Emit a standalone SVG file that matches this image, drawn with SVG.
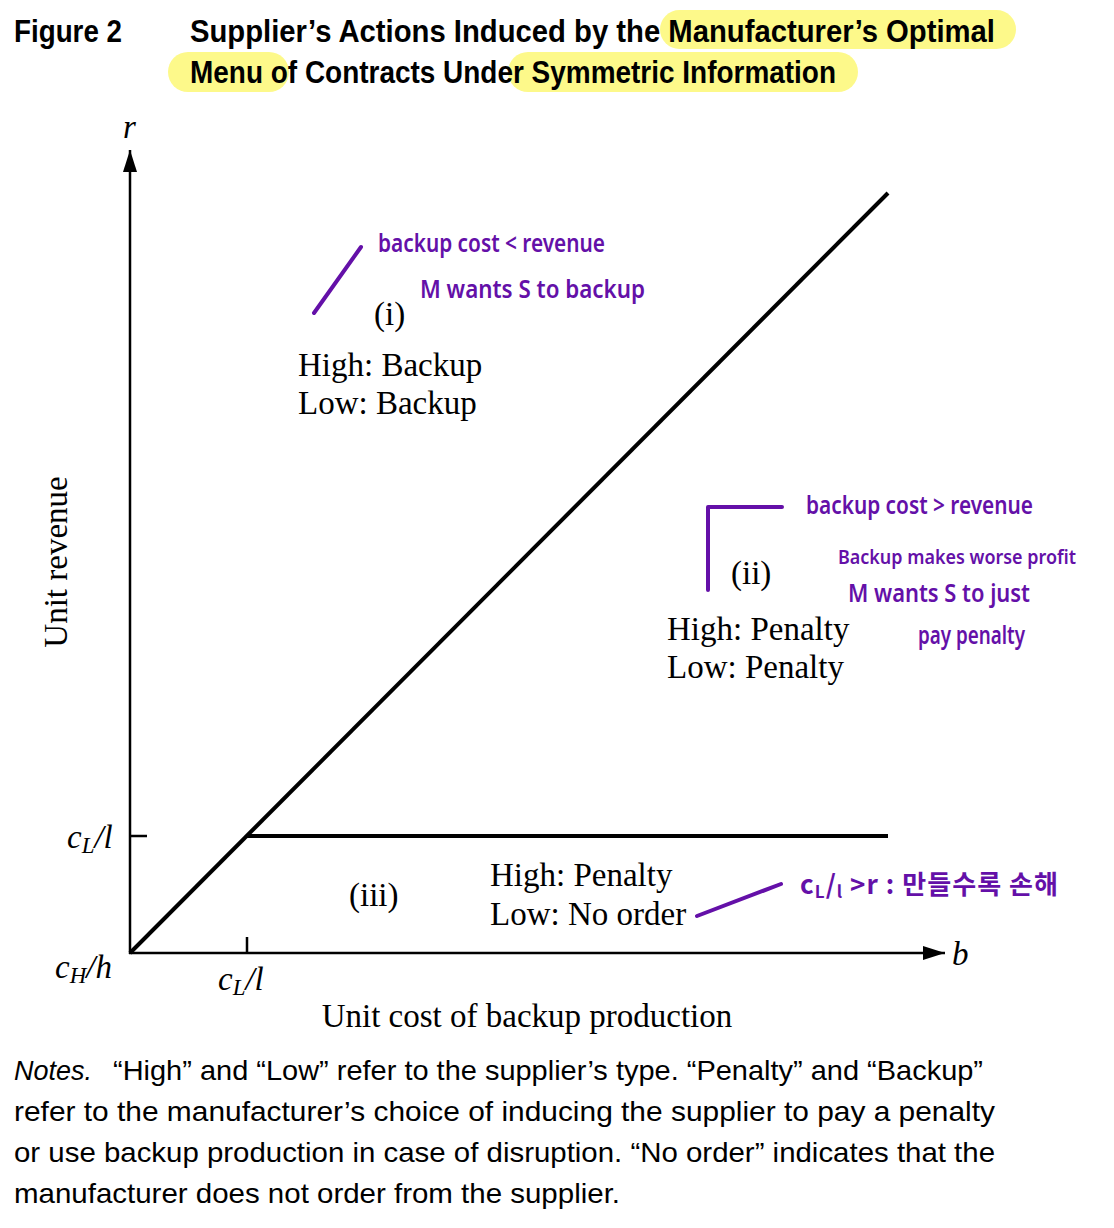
<svg xmlns="http://www.w3.org/2000/svg" width="1114" height="1228" viewBox="0 0 1114 1228">
<defs>
<style>
.title{font-family:"Liberation Sans Narrow","Liberation Sans",Arial,sans-serif;font-weight:bold;font-size:31px;fill:#000}
.serif{font-family:"Liberation Serif","Times New Roman",serif;font-size:33px;fill:#000}
.ital{font-style:italic}
.notes{font-family:"Liberation Sans Narrow","Liberation Sans",Arial,sans-serif;font-size:28px;fill:#000}
.hand{font-family:"Noto Sans","Noto Sans CJK KR",sans-serif;font-size:26px;fill:#6410a8;font-weight:600}
.ink{stroke:#6410a8;stroke-width:4;fill:none;stroke-linecap:round;stroke-linejoin:round}
.axis{stroke:#000;stroke-width:2.5;fill:none}
.bound{stroke:#000;stroke-width:4;fill:none}
.hl{fill:#fdf98a}
</style>
<marker id="arr" viewBox="0 0 22 14" refX="22" refY="7" markerWidth="22" markerHeight="14" markerUnits="userSpaceOnUse" orient="auto">
<path d="M0,0 L22,7 L0,14 Z" fill="#000"/>
</marker>
</defs>
<rect width="1114" height="1228" fill="#fff"/>

<g id="title">
<rect class="hl" x="660" y="10" width="356" height="39" rx="19.5"/>
<rect class="hl" x="168" y="52" width="121" height="40" rx="20"/>
<rect class="hl" x="508" y="52" width="350" height="40" rx="20"/>
<text class="title" x="14" y="42" textLength="108" lengthAdjust="spacingAndGlyphs">Figure 2</text>
<text class="title" x="190" y="42" textLength="805" lengthAdjust="spacingAndGlyphs">Supplier’s Actions Induced by the Manufacturer’s Optimal</text>
<text class="title" x="190" y="83" textLength="646" lengthAdjust="spacingAndGlyphs">Menu of Contracts Under Symmetric Information</text>
</g>

<g id="axes">
<line class="axis" x1="130" y1="954" x2="130" y2="150" marker-end="url(#arr)"/>
<line class="axis" x1="129" y1="953" x2="945" y2="953" marker-end="url(#arr)"/>
<path class="axis" d="M130,836 H147 M247,953 V937"/>
</g>

<g id="connectors">
<line class="bound" x1="130" y1="953" x2="888" y2="193"/>
<line class="bound" x1="247" y1="836" x2="888" y2="836"/>
</g>

<g id="axis-labels">
<text class="serif ital" x="123" y="138">r</text>
<text class="serif ital" x="952" y="965">b</text>
<text class="serif ital" x="67" y="848">c<tspan font-size="23" dy="5">L</tspan><tspan dy="-5">/l</tspan></text>
<text class="serif ital" x="55" y="978">c<tspan font-size="23" dy="5">H</tspan><tspan dy="-5">/h</tspan></text>
<text class="serif ital" x="218" y="990">c<tspan font-size="23" dy="5">L</tspan><tspan dy="-5">/l</tspan></text>
<text class="serif" transform="translate(67,562) rotate(-90)" text-anchor="middle">Unit revenue</text>
<text class="serif" x="527" y="1027" text-anchor="middle">Unit cost of backup production</text>
</g>

<g id="region-i">
<text class="serif" x="374" y="325">(i)</text>
<text class="serif" x="298" y="376">High: Backup</text>
<text class="serif" x="298" y="414">Low: Backup</text>
</g>

<g id="region-ii">
<text class="serif" x="731" y="584">(ii)</text>
<text class="serif" x="667" y="640">High: Penalty</text>
<text class="serif" x="667" y="678">Low: Penalty</text>
</g>

<g id="region-iii">
<text class="serif" x="349" y="906">(iii)</text>
<text class="serif" x="490" y="886">High: Penalty</text>
<text class="serif" x="490" y="925">Low: No order</text>
</g>

<g id="annotation-i">
<line class="ink" x1="314" y1="313" x2="361" y2="247"/>
<text class="hand" x="378" y="252" textLength="227" lengthAdjust="spacingAndGlyphs">backup cost &lt; revenue</text>
<text class="hand" x="420" y="298" textLength="225" lengthAdjust="spacingAndGlyphs">M wants S to backup</text>
</g>

<g id="annotation-ii">
<polyline class="ink" points="708,590 708,507 782,507"/>
<text class="hand" x="806" y="514" textLength="227" lengthAdjust="spacingAndGlyphs">backup cost &gt; revenue</text>
<text class="hand" x="838" y="564" style="font-size:20px" textLength="238" lengthAdjust="spacingAndGlyphs">Backup makes worse profit</text>
<text class="hand" x="848" y="602" textLength="182" lengthAdjust="spacingAndGlyphs">M wants S to just</text>
<text class="hand" x="918" y="644" textLength="107" lengthAdjust="spacingAndGlyphs">pay penalty</text>
</g>

<g id="annotation-iii">
<line class="ink" x1="697" y1="916" x2="781" y2="884"/>
<text class="hand" x="800" y="894" style="font-family:'Noto Sans CJK KR',sans-serif" textLength="258" lengthAdjust="spacing">c<tspan font-size="17" dy="4">L</tspan><tspan dy="-4">/</tspan><tspan font-size="17" dy="4">l</tspan><tspan dy="-4"> &gt;r  :  만들수록 손해</tspan></text>
</g>

<g id="notes">
<text class="notes ital" x="14" y="1080" textLength="78" lengthAdjust="spacingAndGlyphs">Notes.</text>
<text class="notes" x="113" y="1080" textLength="870" lengthAdjust="spacingAndGlyphs">“High” and “Low” refer to the supplier’s type. “Penalty” and “Backup”</text>
<text class="notes" x="14" y="1121" textLength="981" lengthAdjust="spacingAndGlyphs">refer to the manufacturer’s choice of inducing the supplier to pay a penalty</text>
<text class="notes" x="14" y="1162" textLength="981" lengthAdjust="spacingAndGlyphs">or use backup production in case of disruption. “No order” indicates that the</text>
<text class="notes" x="14" y="1203" textLength="606" lengthAdjust="spacingAndGlyphs">manufacturer does not order from the supplier.</text>
</g>
</svg>
